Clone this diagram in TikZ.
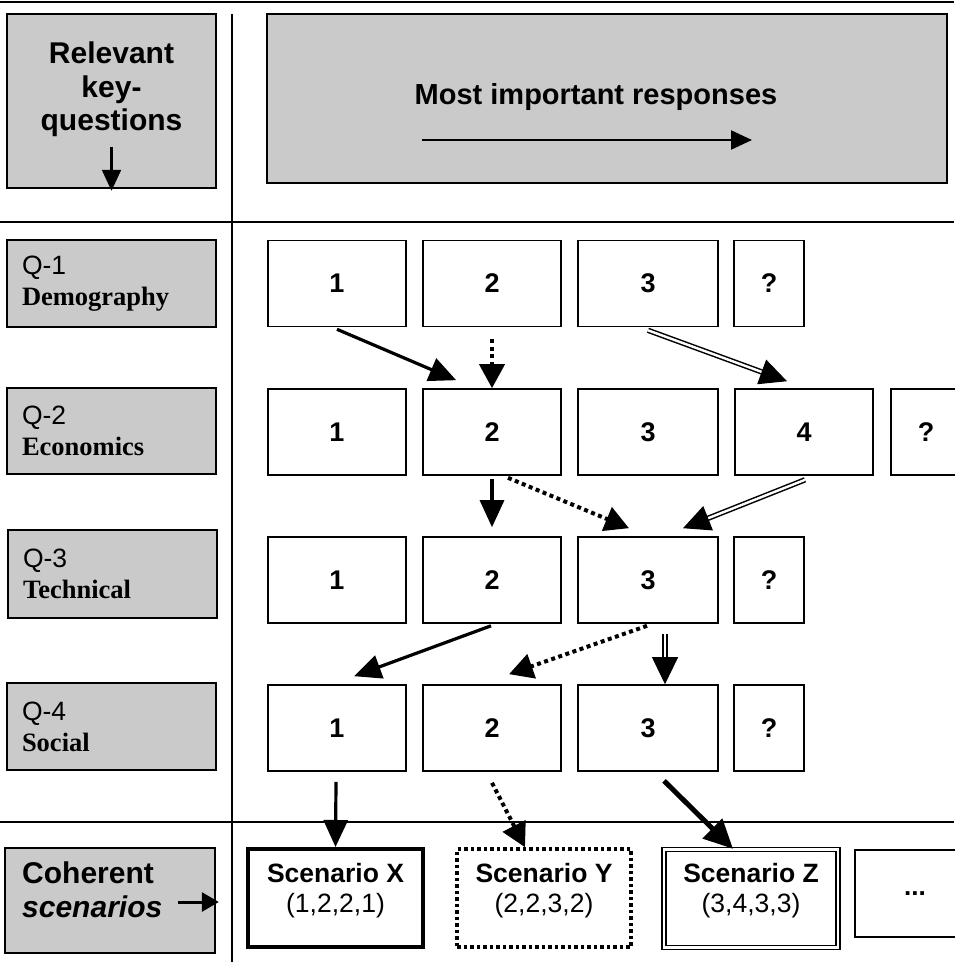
\documentclass[tikz,border=0pt]{standalone}
\usepackage{fontspec}
\setmainfont{Liberation Serif}
\setsansfont{Liberation Sans}
\usetikzlibrary{arrows.meta,calc}
\definecolor{boxgray}{RGB}{202,202,202}
\tikzset{
  frame/.style={line width=2pt, draw=black},
  gbox/.style={draw=black, line width=1.6pt, fill=boxgray, inner sep=0pt},
  qlabel/.style={gbox, minimum width=209pt, text width=179pt, align=left,
    font=\sffamily\fontsize{26.5}{31}\selectfont},
  bigtext/.style={inner sep=0pt, align=center, font=\sffamily\bfseries\fontsize{30}{33.5}\selectfont},
  rbox/.style={draw=black, line width=1.6pt, fill=white, minimum height=86pt, inner sep=0pt,
    font=\sffamily\bfseries\fontsize{27}{30}\selectfont},
  wide/.style={minimum width=138pt},
  narrow/.style={minimum width=70pt},
  scen/.style={draw=black, fill=white, minimum width=174pt, minimum height=98pt, inner sep=0pt},
  scentext/.style={inner sep=0pt, align=center, font=\sffamily\bfseries\fontsize{26.5}{30}\selectfont},
  thinarr/.style={line width=2.2pt, -{Triangle[length=21pt,width=19pt]}},
  sarrow/.style={line width=3.2pt, -{Triangle[length=27pt,width=24pt]}},
  darrow/.style={line width=4pt, dash pattern=on 4pt off 3.5pt, -{Triangle[length=24pt,width=25pt]}},
  dbline/.style={double, double distance=2.4pt, line width=1.5pt},
  dtip/.style={line width=1pt, -{Triangle[length=27pt,width=26pt]}},
}
\newcommand{\dblarr}[2]{%
  \draw[dbline, shorten >=22pt] (#1) -- (#2);
  \draw[dtip] ($(#2)!26pt!(#1)$) -- (#2);}
\begin{document}
\begin{tikzpicture}[x=1pt,y=-1pt]
\useasboundingbox (0,0) rectangle (954,965);
% frame lines
\draw[frame] (0,2) -- (954,2);
\draw[frame] (0,222) -- (954,222);
\draw[frame] (0,822) -- (954,822);
\draw[frame] (232,14) -- (232,962);

% header
\node[gbox, minimum width=209pt, minimum height=174pt] (kq) at (111.5,101) {};
\node[bigtext, anchor=north] (kqt) at (111.5,42) {Relevant\\key-\\questions};
\coordinate (kqa) at (111.5,147);
\draw[thinarr] (kqa) -- ($(kq.south)+(0,2)$);

\node[gbox, minimum width=680pt, minimum height=169pt] (mir) at (607,98.5) {};
\node[inner sep=0pt, font=\sffamily\bfseries\fontsize{29}{33}\selectfont] (mirt) at (596,97) {Most important responses};
\coordinate (mira) at (422,140);
\coordinate (mirb) at (752,140);
\draw[thinarr] (mira) -- (mirb);

% question labels
\node[qlabel, minimum height=87pt] (q1) at (111.5,283.5) {Q-1\\{\rmfamily\bfseries Demography}};
\node[qlabel, minimum height=86pt] (q2) at (111.5,431) {Q-2\\{\rmfamily\bfseries Economics}};
\node[qlabel, minimum height=88pt] (q3) at (112.5,574) {Q-3\\{\rmfamily\bfseries Technical}};
\node[qlabel, minimum height=87pt] (q4) at (111.5,726.5) {Q-4\\{\rmfamily\bfseries Social}};

% responses
\node[rbox, wide] (r1c1) at (337,283.5) {1};
\node[rbox, wide] (r1c2) at (492,283.5) {2};
\node[rbox, wide, minimum width=140pt] (r1c3) at (648,283.5) {3};
\node[rbox, narrow] (r1c4) at (769,283.5) {?};

\node[rbox, wide] (r2c1) at (337,432) {1};
\node[rbox, wide] (r2c2) at (492,432) {2};
\node[rbox, wide, minimum width=140pt] (r2c3) at (648,432) {3};
\node[rbox, wide] (r2c4) at (804,432) {4};
\node[rbox, narrow] (r2c5) at (926,432) {?};

\node[rbox, wide] (r3c1) at (337,580) {1};
\node[rbox, wide] (r3c2) at (492,580) {2};
\node[rbox, wide, minimum width=140pt] (r3c3) at (648,580) {3};
\node[rbox, narrow] (r3c4) at (769,580) {?};

\node[rbox, wide] (r4c1) at (337,728) {1};
\node[rbox, wide] (r4c2) at (492,728) {2};
\node[rbox, wide, minimum width=140pt] (r4c3) at (648,728) {3};
\node[rbox, narrow] (r4c4) at (769,728) {?};

% scenarios
\node[gbox, minimum width=210pt, minimum height=105pt] (cs) at (110,900.5) {};
\node[bigtext, anchor=north west, align=left] (cst) at (22,862) {Coherent\\\textit{scenarios}};
\coordinate (csa) at (178,902);
\draw[line width=3pt, -{Triangle[length=17pt,width=19pt]}] (csa) -- ($(cs.east)+(3,1.5)$);

\node[scen, line width=4pt, minimum width=175pt] (sx) at (335.5,898) {};
\node[scentext] (sxt) at (335.5,891) {Scenario X\\{\mdseries (1,2,2,1)}};
\node[scen, line width=3.5pt, dash pattern=on 3.5pt off 3pt] (sy) at (544,898) {};
\node[scentext] (syt) at (544,891) {Scenario Y\\{\mdseries (2,2,3,2)}};
\node[scen, double, double distance=2.5pt, line width=1.4pt] (sz) at (751,898.5) {};
\node[scentext] (szt) at (751,891) {Scenario Z\\{\mdseries (3,4,3,3)}};
\node[draw=black, fill=white, line width=2pt, minimum width=120pt, minimum height=87pt, inner sep=0pt,
  font=\sffamily\bfseries\fontsize{26}{28}\selectfont] (sd) at (915,893.5) {...};

% arrows Q1 -> Q2
\draw[sarrow] ($(r1c1.south)+(0,2)$) -- ($(r2c2.north west)+(34,-8)$);
\draw[darrow] ($(r1c2.south)+(0,12)$) -- (r2c2.north);
\coordinate (d1a) at ($(r1c3.south)+(0,3)$);
\coordinate (d1b) at ($(r2c4.north)+(-17,-7)$);
\dblarr{d1a}{d1b}

% Q2 -> Q3
\draw[sarrow] ($(r2c2.south)+(0,3)$) -- ($(r3c2.north)+(0,-9)$);
\draw[darrow] ($(r2c2.south)+(16,2)$) -- ($(r3c3.north)+(-19,-8)$);
\coordinate (d2a) at ($(r2c4.south)+(1,4)$);
\coordinate (d2b) at ($(r3c3.north)+(35,-8)$);
\dblarr{d2a}{d2b}

% Q3 -> Q4
\draw[sarrow] ($(r3c2.south)+(-1,2)$) -- ($(r4c1.north)+(17,-8)$);
\draw[darrow] ($(r3c3.south)+(-1,2)$) -- ($(r4c2.north)+(17,-10)$);
\coordinate (d3a) at ($(r3c3.south)+(17,10)$);
\coordinate (d3b) at ($(r4c3.north)+(17,0)$);
\dblarr{d3a}{d3b}

% Q4 -> scenarios
\draw[sarrow] ($(r4c1.south)+(-1,10)$) -- (sx.north);
\draw[darrow] ($(r4c2.south)+(0,11)$) -- ($(sy.north)+(-19,0)$);
\draw[line width=5pt, -{Triangle[length=29pt,width=27pt]}] ($(r4c3.south)+(16,9)$) -- ($(sz.north)+(-18,0)$);
\end{tikzpicture}
\end{document}
